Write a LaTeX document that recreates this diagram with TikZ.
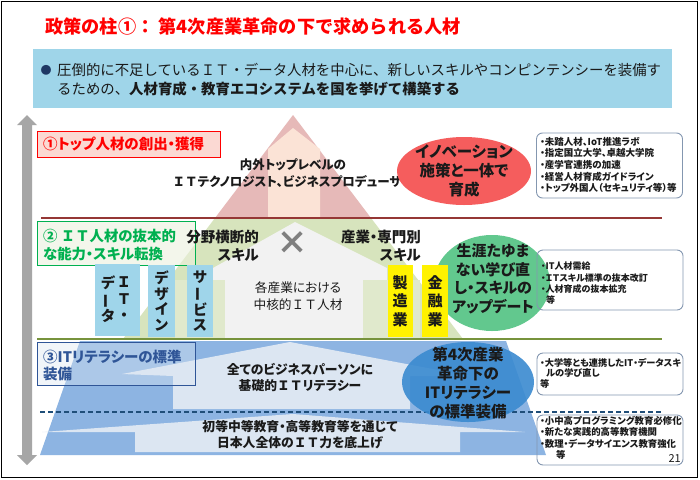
\documentclass[tikz,border=0pt]{standalone}
\usepackage{fontspec}
\usepackage{graphicx}
\setmainfont{Noto Sans CJK JP}[RawFeature=+palt]
\newfontfamily\jpfull{Noto Sans CJK JP}
\usetikzlibrary{shapes.geometric}
\definecolor{hdrblue}{HTML}{9FD5E9}
\definecolor{navy}{HTML}{1F3864}
\definecolor{pyrred}{HTML}{E6B9B8}
\definecolor{peach}{HTML}{FBE3D6}
\definecolor{pyrgreen}{HTML}{D7E4BD}
\definecolor{lgreen}{HTML}{E0E9CC}
\definecolor{housegray}{HTML}{F2F2F2}
\definecolor{pyrblue}{HTML}{8DB4E2}
\definecolor{lblue}{HTML}{DCE6F2}
\definecolor{colblue}{HTML}{9FD5EA}
\definecolor{linered}{HTML}{953735}
\definecolor{linegreen}{HTML}{77933C}
\definecolor{linedash}{HTML}{1F4E79}
\definecolor{boxgreen}{HTML}{00B050}
\definecolor{boxblue}{HTML}{2F5597}
\definecolor{tagpink}{HTML}{FBD9D3}
\definecolor{taggreen}{HTML}{EBF1DE}
\definecolor{ellred}{HTML}{F55D5D}
\definecolor{ellgreen}{HTML}{62C88E}
\definecolor{ellblue}{HTML}{3A8AD0}
\definecolor{infoborder}{HTML}{8497B0}
\definecolor{arrowgray}{HTML}{A6A6A6}
\definecolor{txt}{HTML}{1A1A1A}
\definecolor{crossgray}{HTML}{7F7F7F}
\newcommand\fsz[2]{\fontsize{#1pt}{#2pt}\selectfont}
\newcommand\vbar{\rotatebox[origin=c]{90}{ー}}
\newcommand\fIT{{\jpfull ＩＴ}}
\begin{document}
\begin{tikzpicture}[x=1pt,y=-1pt,
  txtnode/.style={inner sep=0pt, text=txt},
  tagbox/.style={draw, line width=1.2pt, rectangle, inner sep=0pt, anchor=north west},
  colbox/.style={rectangle, fill=colblue, inner sep=0pt, minimum height=72pt, align=center, font=\bfseries\fsz{14.5}{15.8}, text=txt},
  yelbox/.style={rectangle, fill=yellow, inner sep=0pt, minimum height=72pt, align=center, font=\bfseries\fsz{15}{18.5}, text=txt},
  bubble/.style={ellipse, inner sep=0pt},
  bubbletext/.style={inner sep=0pt, align=center, text=txt},
  infobox/.style={draw=infoborder, line width=0.9pt, rounded corners=6pt, rectangle, inner sep=0pt, minimum width=146pt},
  infotext/.style={inner sep=0pt, align=left, anchor=north west, text=txt},
]
\useasboundingbox (0,0) rectangle (700,479);
\fill[white] (0,0) rectangle (700,479);
\draw[line width=1.5pt] (1.5,1.5) rectangle (697.5,477.5);

% title and header
\node[anchor=west, inner sep=0pt, font=\jpfull\bfseries\fsz{18.2}{21}, text=red] (title) at (45,27) {政策の柱①： 第4次産業革命の下で求められる人材};
\node[rectangle, fill=hdrblue, minimum width=639pt, minimum height=59pt, inner sep=0pt, anchor=north west] (hdr) at (33,49) {};
\node[inner sep=0pt, text=navy, font=\fsz{11}{12}] (bul) at (46,70) {●};
\node[txtnode, anchor=west, font=\jpfull\fsz{14.4}{17}] (hl1) at (57,70) {圧倒的に不足しているＩＴ・データ人材を中心に、新しいスキルやコンピンテンシーを装備す};
\node[txtnode, anchor=west, font=\jpfull\fsz{14.4}{17}] (hl2) at (57,89) {るための、\textbf{人材育成・教育エコシステムを国を挙げて構築する}};

% gray double arrow
\fill[arrowgray] (27,115) -- (37,125) -- (32,125) -- (32,455) -- (37,455) -- (27,465) -- (17,455) -- (22,455) -- (22,125) -- (17,125) -- cycle;

% pyramid
\fill[pyrred] (293,115) -- (371,218) -- (215,218) -- cycle;
\fill[peach] (293,128) -- (320,149) -- (320,218) -- (268,218) -- (268,149) -- cycle;
\fill[pyrgreen] (215,218) -- (371,218) -- (463,339) -- (123,339) -- cycle;
\fill[housegray] (295,222) -- (387,268) -- (387,339) -- (213,339) -- (213,268) -- cycle;
\fill[lgreen] (175,280) rectangle (225,339);
\fill[lgreen] (363,280) rectangle (420,339);
\fill[pyrblue] (80,341) -- (506,341) -- (546,455) -- (40,455) -- cycle;
\fill[lblue] (122,374) -- (290,342) -- (470,376) -- (410,376) -- (410,409) -- (173,409) -- (173,376) -- cycle;
\fill[lblue] (42,432) -- (293,414) -- (525,432) -- (460,432) -- (460,452) -- (135,452) -- (135,432) -- cycle;

% separators
\draw[linered, line width=2pt] (41,218) -- (662,218);
\draw[linegreen, line width=2pt] (37,339) -- (662,339);
\draw[linedash, line width=1.5pt, dash pattern=on 5pt off 3pt] (40,412) -- (662,412);

% tag boxes
\node[tagbox, draw=red, fill=tagpink, minimum width=183pt, minimum height=26pt] (tag1) at (37,131) {};
\node[txtnode, anchor=west, text=red, font=\bfseries\fsz{14.5}{17}] (tag1t) at (43,144) {①トップ人材の創出・獲得};
\node[tagbox, draw=boxgreen, fill=taggreen, fill opacity=0.6, minimum width=158pt, minimum height=44pt] (tag2) at (37,221) {};
\node[txtnode, anchor=west, align=left, text=boxgreen, font=\bfseries\fsz{14.4}{18}] (tag2t) at (43,245) {{\jpfull ② ＩＴ}人材の抜本的\\な能力・スキル転換};
\node[tagbox, draw=boxblue, fill=lblue, fill opacity=0.4, minimum width=158pt, minimum height=43pt] (tag3) at (37,342) {};
\node[txtnode, anchor=west, align=left, text=boxblue, font=\bfseries\fsz{14.5}{17}] (tag3t) at (43,365) {③ITリテラシーの標準\\装備};

% green bubble (behind the columns)
\node[bubble, fill=ellgreen, minimum width=116pt, minimum height=96pt] (life) at (492,283) {};

% columns
\node[colbox, minimum width=45pt] (itd) at (117.5,300) {};
\node[txtnode, align=center, font=\bfseries\fsz{14.5}{16.5}] (itd1) at (124,299) {Ｉ\\Ｔ\\・};
\node[txtnode, align=center, font=\bfseries\fsz{14.5}{16.5}] (itd2) at (108,299) {デ\\\vbar\\タ};
\node[colbox, minimum width=27pt] (dsn) at (161.5,301) {デ\\ザ\\イ\\ン};
\node[colbox, minimum width=26pt] (svc) at (200,301) {サ\\\vbar\\ビ\\ス};
\node[yelbox, minimum width=25pt] (mfg) at (400,301) {製\\造\\業};
\node[yelbox, minimum width=26pt] (fin) at (435,301) {金\\融\\業};

% middle texts
\node[txtnode, anchor=east, align=right, font=\bfseries\fsz{14.5}{18.5}] (bunya) at (259,246) {分野横断的\\スキル};
\node[txtnode, anchor=east, align=right, font=\bfseries\fsz{14.5}{18.5}] (sangyo) at (421,246) {産業・専門別\\スキル};
\node[inner sep=0pt, text=crossgray, font=\bfseries\fsz{32}{32}] (cross) at (292,243) {×};
\node[txtnode, align=center, font=\fsz{12.7}{17}] (core) at (298,296) {各産業における\\中核的\fIT 人材};

% top texts
\node[txtnode, align=center, font=\bfseries\fsz{12.5}{17}] (toptxt) at (293,173) {内外トップレベルの\\\fIT テクノロジスト、ビジネスプロデューサー};

% bottom texts
\node[txtnode, align=center, font=\bfseries\fsz{12.8}{16}] (lit) at (300,378) {全てのビジネスパーソンに\\基礎的\fIT リテラシー};
\node[txtnode, align=center, font=\bfseries\fsz{12.8}{16}] (edu) at (300,435) {初等中等教育・高等教育等を通じて\\日本人全体の\fIT 力を底上げ};

% bubbles
\node[bubble, fill=ellred, minimum width=134pt, minimum height=68pt] (innov) at (464,171) {};
\node[bubbletext, font=\bfseries\fsz{15.5}{19}] (innovt) at (innov) {イノベーション\\施策と一体で\\育成};
\node[bubbletext, font=\bfseries\fsz{15}{18.5}] (lifet) at (493,279) {生涯たゆま\\ない学び直\\し・スキルの\\アップデート};
\node[bubble, fill=ellblue, fill opacity=0.9, minimum width=132pt, minimum height=80pt] (std) at (468,382) {};
\node[bubbletext, font=\bfseries\fsz{15.5}{19}] (stdt) at (468,383) {第4次産業\\革命下の\\ITリテラシー\\の標準装備};

% info boxes
\node[infobox, minimum height=65pt] (info1) at (609.5,165.5) {};
\node[infotext, font=\bfseries\fsz{9.5}{11.6}] (info1t) at (540,137) {・未踏人材、IoT推進ラボ\\・指定国立大学、卓越大学院\\・産学官連携の加速\\・経営人材育成ガイドライン\\・トップ外国人（セキュリティ等）等};
\node[infobox, minimum height=60pt] (info2) at (610,280) {};
\node[infotext, font=\bfseries\fsz{9}{11.3}] (info2t) at (541,262) {・IT人材需給\\・ＩＴスキル標準の抜本改訂\\・人材育成の抜本拡充\\\hspace*{5pt}等};
\node[infobox, minimum height=42pt] (info3) at (610,374) {};
\node[infotext, font=\bfseries\fsz{9.2}{10.5}] (info3t) at (540,358) {・大学等とも連携したIT・データスキ\\\hspace*{6pt}ルの学び直し\\等};
\node[infobox, minimum height=50pt] (info4) at (610,440) {};
\node[infotext, font=\bfseries\fsz{9.4}{11.5}] (info4t) at (540,416) {・小中高プログラミング教育必修化\\・新たな実践的高等教育機関\\・数理・データサイエンス教育強化\\\hspace*{16pt}等};
\node[txtnode, anchor=east, font=\fsz{11}{12}] (pagenum) at (681,458) {21};
\end{tikzpicture}
\end{document}
